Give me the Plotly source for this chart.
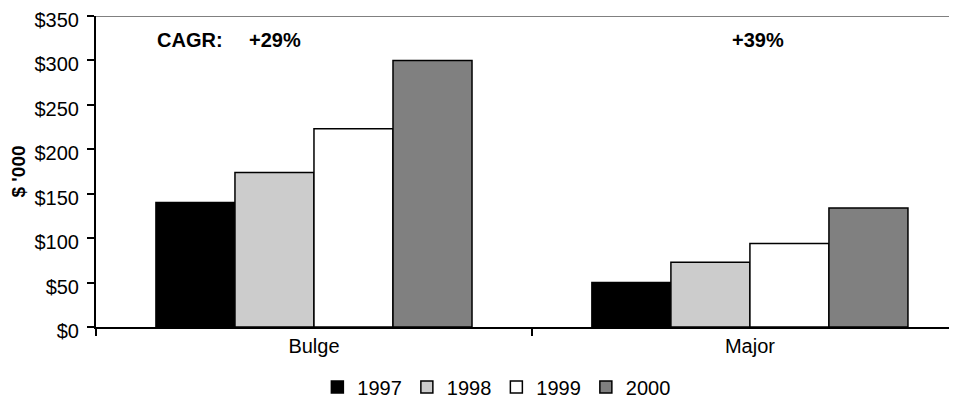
import plotly.graph_objects as go

categories = ["Bulge", "Major"]
years = ["1997", "1998", "1999", "2000"]
values = {
    "1997": [140, 50],
    "1998": [174, 73],
    "1999": [223, 94],
    "2000": [300, 134],
}
colors = {"1997": "#000000", "1998": "#cccccc", "1999": "#ffffff", "2000": "#808080"}
y_ticks = [0, 50, 100, 150, 200, 250, 300, 350]
y_tick_labels = ["$" + str(v) for v in y_ticks]
cagr_labels = ["+29%", "+39%"]

FONT = "Liberation Sans, Arial, sans-serif"

fig = go.Figure()
for yr in years:
    fig.add_trace(go.Bar(
        x=categories, y=values[yr], name=yr,
        marker=dict(color=colors[yr], line=dict(color="black", width=1.5)),
    ))

fig.update_layout(
    width=949, height=391,
    margin=dict(l=88, r=0, t=8, b=72, autoexpand=False),
    paper_bgcolor="white", plot_bgcolor="white",
    font=dict(family=FONT, size=20, color="black"),
    barmode="group", bargap=0.275, bargroupgap=0,
    showlegend=True,
    legend=dict(orientation="h", x=0.465, xanchor="center", y=-0.13, yanchor="top",
                font=dict(size=20), itemwidth=30, tracegroupgap=0,
                bgcolor="rgba(0,0,0,0)"),
)
fig.update_xaxes(
    range=[-0.5, 1.475], showline=True, linecolor="black", linewidth=2,
    ticks="outside", tickson="boundaries", ticklen=7, tickcolor="black", tickwidth=2,
    showgrid=False, zeroline=False, tickfont=dict(size=20), automargin=False,
)
fig.update_yaxes(
    range=[0, 350], tickvals=y_ticks, ticktext=y_tick_labels,
    showline=True, linecolor="black", linewidth=2,
    ticks="outside", ticklen=7, tickcolor="black", tickwidth=2,
    showgrid=False, zeroline=False, tickfont=dict(size=20), automargin=False,
    ticklabeloverflow="allow", ticklabelstandoff=4, ticklabelshift=4,
    title=dict(text="<b>$ '000</b>", font=dict(size=19), standoff=12),
)
fig.add_shape(type="line", xref="paper", yref="y", x0=0, x1=1, y0=350, y1=350,
              line=dict(color="#808080", width=2))

fig.add_annotation(x=-0.365, y=323, xref="x", yref="y", text="<b>CAGR:</b>",
                   showarrow=False, xanchor="left", font=dict(size=20))
fig.add_annotation(x=-0.154, y=323, xref="x", yref="y", text="<b>" + cagr_labels[0] + "</b>",
                   showarrow=False, xanchor="left", font=dict(size=20))
fig.add_annotation(x=0.954, y=323, xref="x", yref="y", text="<b>" + cagr_labels[1] + "</b>",
                   showarrow=False, xanchor="left", font=dict(size=20))

fig.write_html("out.html")
